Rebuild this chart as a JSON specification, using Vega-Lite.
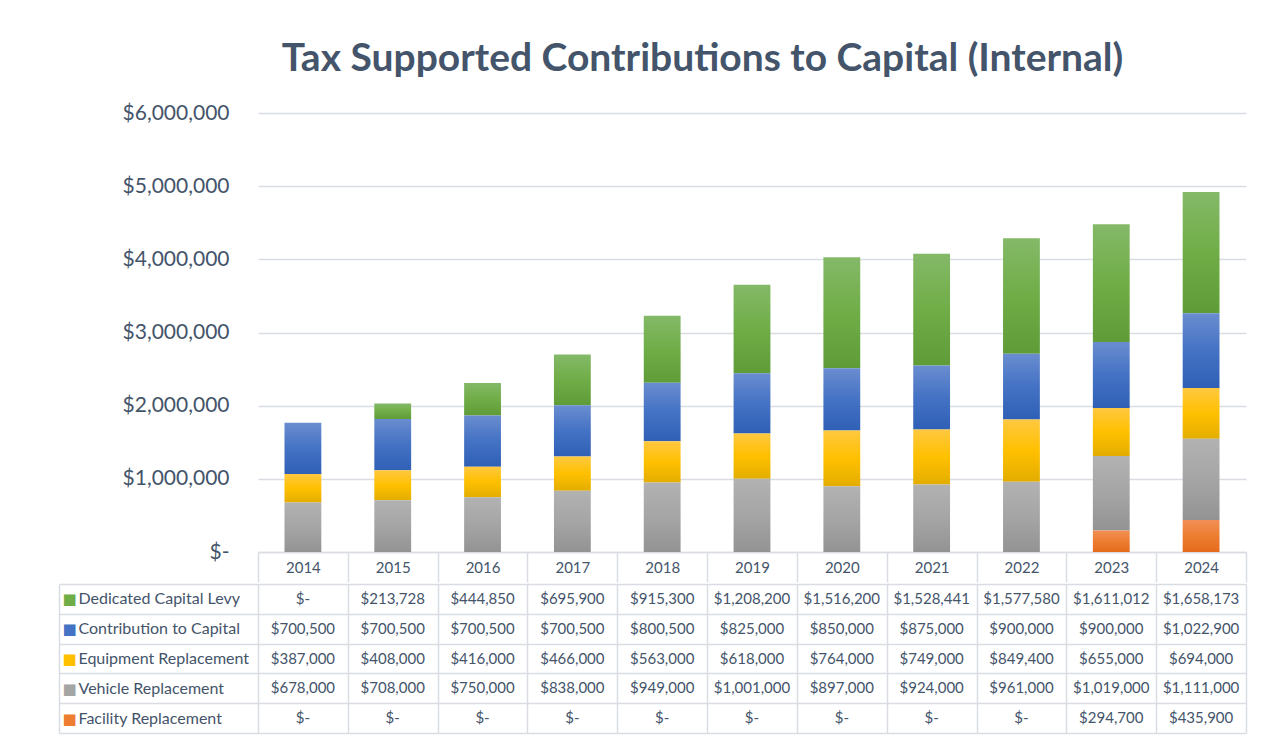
{
  "$schema": "https://vega.github.io/schema/vega-lite/v6.json",
  "background": "white",
  "padding": {"left": 58, "top": 40, "right": 5, "bottom": 5},
  "title": {"text": "Tax Supported Contributions to Capital (Internal)", "font": "Lato", "fontSize": 39, "fontWeight": "bold", "color": "#44546A", "anchor": "middle", "dx": 50, "offset": 23},
  "datasets": {
    "d": [
      {"year": "2014", "series": "Dedicated Capital Levy", "ord": 5, "value": 0},
      {"year": "2015", "series": "Dedicated Capital Levy", "ord": 5, "value": 213728},
      {"year": "2016", "series": "Dedicated Capital Levy", "ord": 5, "value": 444850},
      {"year": "2017", "series": "Dedicated Capital Levy", "ord": 5, "value": 695900},
      {"year": "2018", "series": "Dedicated Capital Levy", "ord": 5, "value": 915300},
      {"year": "2019", "series": "Dedicated Capital Levy", "ord": 5, "value": 1208200},
      {"year": "2020", "series": "Dedicated Capital Levy", "ord": 5, "value": 1516200},
      {"year": "2021", "series": "Dedicated Capital Levy", "ord": 5, "value": 1528441},
      {"year": "2022", "series": "Dedicated Capital Levy", "ord": 5, "value": 1577580},
      {"year": "2023", "series": "Dedicated Capital Levy", "ord": 5, "value": 1611012},
      {"year": "2024", "series": "Dedicated Capital Levy", "ord": 5, "value": 1658173},
      {"year": "2014", "series": "Contribution to Capital", "ord": 4, "value": 700500},
      {"year": "2015", "series": "Contribution to Capital", "ord": 4, "value": 700500},
      {"year": "2016", "series": "Contribution to Capital", "ord": 4, "value": 700500},
      {"year": "2017", "series": "Contribution to Capital", "ord": 4, "value": 700500},
      {"year": "2018", "series": "Contribution to Capital", "ord": 4, "value": 800500},
      {"year": "2019", "series": "Contribution to Capital", "ord": 4, "value": 825000},
      {"year": "2020", "series": "Contribution to Capital", "ord": 4, "value": 850000},
      {"year": "2021", "series": "Contribution to Capital", "ord": 4, "value": 875000},
      {"year": "2022", "series": "Contribution to Capital", "ord": 4, "value": 900000},
      {"year": "2023", "series": "Contribution to Capital", "ord": 4, "value": 900000},
      {"year": "2024", "series": "Contribution to Capital", "ord": 4, "value": 1022900},
      {"year": "2014", "series": "Equipment Replacement", "ord": 3, "value": 387000},
      {"year": "2015", "series": "Equipment Replacement", "ord": 3, "value": 408000},
      {"year": "2016", "series": "Equipment Replacement", "ord": 3, "value": 416000},
      {"year": "2017", "series": "Equipment Replacement", "ord": 3, "value": 466000},
      {"year": "2018", "series": "Equipment Replacement", "ord": 3, "value": 563000},
      {"year": "2019", "series": "Equipment Replacement", "ord": 3, "value": 618000},
      {"year": "2020", "series": "Equipment Replacement", "ord": 3, "value": 764000},
      {"year": "2021", "series": "Equipment Replacement", "ord": 3, "value": 749000},
      {"year": "2022", "series": "Equipment Replacement", "ord": 3, "value": 849400},
      {"year": "2023", "series": "Equipment Replacement", "ord": 3, "value": 655000},
      {"year": "2024", "series": "Equipment Replacement", "ord": 3, "value": 694000},
      {"year": "2014", "series": "Vehicle Replacement", "ord": 2, "value": 678000},
      {"year": "2015", "series": "Vehicle Replacement", "ord": 2, "value": 708000},
      {"year": "2016", "series": "Vehicle Replacement", "ord": 2, "value": 750000},
      {"year": "2017", "series": "Vehicle Replacement", "ord": 2, "value": 838000},
      {"year": "2018", "series": "Vehicle Replacement", "ord": 2, "value": 949000},
      {"year": "2019", "series": "Vehicle Replacement", "ord": 2, "value": 1001000},
      {"year": "2020", "series": "Vehicle Replacement", "ord": 2, "value": 897000},
      {"year": "2021", "series": "Vehicle Replacement", "ord": 2, "value": 924000},
      {"year": "2022", "series": "Vehicle Replacement", "ord": 2, "value": 961000},
      {"year": "2023", "series": "Vehicle Replacement", "ord": 2, "value": 1019000},
      {"year": "2024", "series": "Vehicle Replacement", "ord": 2, "value": 1111000},
      {"year": "2014", "series": "Facility Replacement", "ord": 1, "value": 0},
      {"year": "2015", "series": "Facility Replacement", "ord": 1, "value": 0},
      {"year": "2016", "series": "Facility Replacement", "ord": 1, "value": 0},
      {"year": "2017", "series": "Facility Replacement", "ord": 1, "value": 0},
      {"year": "2018", "series": "Facility Replacement", "ord": 1, "value": 0},
      {"year": "2019", "series": "Facility Replacement", "ord": 1, "value": 0},
      {"year": "2020", "series": "Facility Replacement", "ord": 1, "value": 0},
      {"year": "2021", "series": "Facility Replacement", "ord": 1, "value": 0},
      {"year": "2022", "series": "Facility Replacement", "ord": 1, "value": 0},
      {"year": "2023", "series": "Facility Replacement", "ord": 1, "value": 294700},
      {"year": "2024", "series": "Facility Replacement", "ord": 1, "value": 435900}
    ]
  },
  "data": {"name": "d"},
  "spacing": 0,
  "vconcat": [
    {
      "width": 988,
      "height": 439,
      "mark": {"type": "bar", "width": {"band": 0.41}},
      "encoding": {
        "x": {
          "field": "year", "type": "ordinal",
          "scale": {"paddingInner": 0, "paddingOuter": 0},
          "axis": {"title": null, "orient": "bottom", "tickBand": "extent", "tickSize": 30, "tickColor": "#D9DDE3", "tickWidth": 1.5, "domainColor": "#D9DDE3", "domainWidth": 1.5, "labelPadding": -15, "labelBaseline": "middle", "labelAngle": 0, "labelFont": "Lato", "labelFontSize": 15, "labelColor": "#44546A", "grid": false}
        },
        "y": {
          "field": "value", "type": "quantitative", "stack": "zero",
          "scale": {"domain": [0, 6000000]},
          "axis": {"title": null, "values": [0, 1000000, 2000000, 3000000, 4000000, 5000000, 6000000], "labelExpr": "datum.value == 0 ? '$-' : format(datum.value, '$,.0f')", "domain": false, "ticks": false, "labelPadding": 29, "labelFont": "Lato", "labelFontSize": 21, "labelColor": "#44546A", "grid": true, "gridColor": "#D9DDE3", "gridWidth": 1.5}
        },
        "detail": {"field": "series"},
        "order": {"field": "ord", "type": "quantitative"},
        "fill": {
          "condition": [
            {"test": "datum.series === 'Dedicated Capital Levy'", "value": {"gradient": "linear", "x1": 0, "y1": 0, "x2": 0, "y2": 1, "stops": [{"offset": 0, "color": "#84B968"}, {"offset": 0.5, "color": "#70AD47"}, {"offset": 1, "color": "#5F9C38"}]}},
            {"test": "datum.series === 'Contribution to Capital'", "value": {"gradient": "linear", "x1": 0, "y1": 0, "x2": 0, "y2": 1, "stops": [{"offset": 0, "color": "#6A8DD0"}, {"offset": 0.5, "color": "#4472C4"}, {"offset": 1, "color": "#2F60B6"}]}},
            {"test": "datum.series === 'Equipment Replacement'", "value": {"gradient": "linear", "x1": 0, "y1": 0, "x2": 0, "y2": 1, "stops": [{"offset": 0, "color": "#FFC840"}, {"offset": 0.5, "color": "#FFC000"}, {"offset": 1, "color": "#E3AD00"}]}},
            {"test": "datum.series === 'Vehicle Replacement'", "value": {"gradient": "linear", "x1": 0, "y1": 0, "x2": 0, "y2": 1, "stops": [{"offset": 0, "color": "#B2B2B2"}, {"offset": 0.5, "color": "#A5A5A5"}, {"offset": 1, "color": "#939393"}]}}
          ],
          "value": {"gradient": "linear", "x1": 0, "y1": 0, "x2": 0, "y2": 1, "stops": [{"offset": 0, "color": "#F18F56"}, {"offset": 0.5, "color": "#ED7D31"}, {"offset": 1, "color": "#E56B1C"}]}
        }
      }
    },
    {
      "width": 988,
      "height": 149,
      "layer": [
        {
          "mark": {"type": "text", "font": "Lato", "fontSize": 15, "color": "#44546A"},
          "encoding": {
            "x": {
              "field": "year", "type": "ordinal",
              "scale": {"paddingInner": 0, "paddingOuter": 0},
              "axis": {"title": null, "labels": false, "ticks": false, "domain": false, "grid": true, "tickBand": "extent", "gridColor": "#D9DDE3", "gridWidth": 1.5}
            },
            "y": {
              "field": "series", "type": "nominal",
              "scale": {"domain": ["Dedicated Capital Levy", "Contribution to Capital", "Equipment Replacement", "Vehicle Replacement", "Facility Replacement"], "paddingInner": 0, "paddingOuter": 0},
              "axis": {"title": null, "orient": "left", "offset": 199, "labels": false, "ticks": true, "tickBand": "extent", "tickSize": -1187, "tickColor": "#D9DDE3", "tickWidth": 1.5, "domain": true, "domainColor": "#D9DDE3", "domainWidth": 1.5, "grid": false}
            },
            "text": {"condition": {"test": "datum.value == 0", "value": "$-"}, "field": "value", "type": "quantitative", "format": "$,.0f"}
          }
        },
        {
          "mark": {"type": "text", "opacity": 0},
          "encoding": {
            "y": {
              "field": "series", "type": "nominal",
              "scale": {"domain": ["Dedicated Capital Levy", "Contribution to Capital", "Equipment Replacement", "Vehicle Replacement", "Facility Replacement"], "paddingInner": 0, "paddingOuter": 0},
              "axis": {"title": null, "orient": "left", "offset": 199, "ticks": false, "tickSize": 0, "domain": false, "grid": false, "labelAlign": "left", "labelBaseline": "middle", "labelPadding": -19, "labelFont": "Lato", "labelFontSize": 16, "labelColor": "#44546A", "labelLimit": 0}
            }
          }
        },
        {
          "mark": {"type": "text", "opacity": 0},
          "encoding": {
            "y": {
              "field": "series", "type": "nominal",
              "scale": {"domain": ["Dedicated Capital Levy", "Contribution to Capital", "Equipment Replacement", "Vehicle Replacement", "Facility Replacement"], "paddingInner": 0, "paddingOuter": 0},
              "axis": {"title": null, "orient": "left", "offset": 199, "ticks": false, "tickSize": 0, "domain": false, "grid": false, "labelAlign": "left", "labelBaseline": "middle", "labelPadding": -3, "labelFont": "DejaVu Sans", "labelFontSize": 15, "labelLimit": 0, "labelExpr": "'■'",
                "labelColor": {"condition": [
                  {"test": "datum.value == 'Dedicated Capital Levy'", "value": "#70AD47"},
                  {"test": "datum.value == 'Contribution to Capital'", "value": "#4472C4"},
                  {"test": "datum.value == 'Equipment Replacement'", "value": "#FFC000"},
                  {"test": "datum.value == 'Vehicle Replacement'", "value": "#A5A5A5"}
                ], "value": "#ED7D31"}
              }
            }
          }
        }
      ],
      "resolve": {"scale": {"y": "independent"}, "axis": {"y": "independent"}}
    }
  ],
  "config": {
    "view": {"stroke": null},
    "font": "Lato"
  }
}
